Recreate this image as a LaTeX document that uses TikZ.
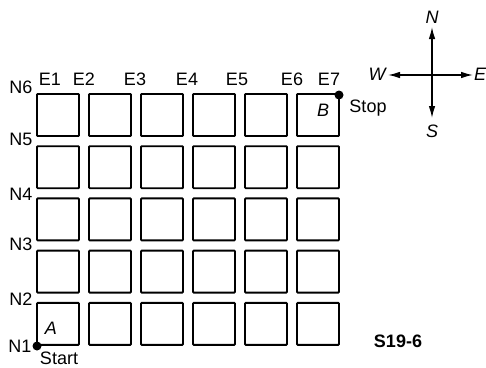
\documentclass[tikz,border=0pt]{standalone}
\usepackage{fontspec}
\setmainfont{Liberation Sans}
\usetikzlibrary{arrows.meta}
\begin{document}
\begin{tikzpicture}[x=1pt,y=-1pt,
  lbl/.style={anchor=base,inner sep=0pt,font=\fontsize{18}{21}\selectfont},
  ilbl/.style={lbl,font=\fontsize{18}{21}\selectfont\itshape},
  block/.style={draw,line width=1.9pt,rounded corners=0.8pt},
  dot/.style={circle,fill,inner sep=0pt,minimum size=9pt},
  comp/.style={line width=1.3pt,-{Latex[length=12pt,width=6.5pt]}}]
\useasboundingbox (0,0) rectangle (486,367);
% blocks
\foreach \i in {0,...,5}{
  \foreach \j in {0,...,4}{
    \draw[block] ({37+52*\i},{94+52.2*\j}) rectangle ++(42,42);
  }
}
% street labels
\node[lbl] (e1) at (50,85) {E1};
\node[lbl] (e2) at (84,85) {E2};
\node[lbl] (e3) at (135,85) {E3};
\node[lbl] (e4) at (187,85) {E4};
\node[lbl] (e5) at (237,85) {E5};
\node[lbl] (e6) at (292,85) {E6};
\node[lbl] (e7) at (329,85) {E7};
\node[lbl] (n6) at (21,93) {N6};
\node[lbl] (n5) at (21,145) {N5};
\node[lbl] (n4) at (21,200) {N4};
\node[lbl] (n3) at (21,250) {N3};
\node[lbl] (n2) at (21,305) {N2};
\node[lbl] (n1) at (20,352) {N1};
% start / stop
\node[dot] (start) at (37,346) {};
\node[dot] (stop) at (339,95) {};
\node[lbl] (starttxt) at (59,364) {Start};
\node[lbl] (stoptxt) at (368,112) {Stop};
\node[ilbl] (a) at (51,334) {A};
\node[ilbl] (b) at (323,116) {B};
\node[lbl,font=\fontsize{18}{21}\selectfont\bfseries] (fig) at (398,347) {S19-6};
% compass
\coordinate (c) at (432,75);
\coordinate (cn) at (432,27);
\coordinate (cs) at (432,118);
\coordinate (cw) at (388,75);
\coordinate (ce) at (473,75);
\draw[comp] (c) -- (cn);
\draw[comp] (c) -- (cs);
\draw[comp] (c) -- (cw);
\draw[comp] (c) -- (ce);
\node[ilbl] (ln) at (432,23) {N};
\node[ilbl] (ls) at (432,137) {S};
\node[ilbl] (lw) at (377,80) {W};
\node[ilbl,anchor=base west] (le) at (474,80) {E};
\end{tikzpicture}
\end{document}
